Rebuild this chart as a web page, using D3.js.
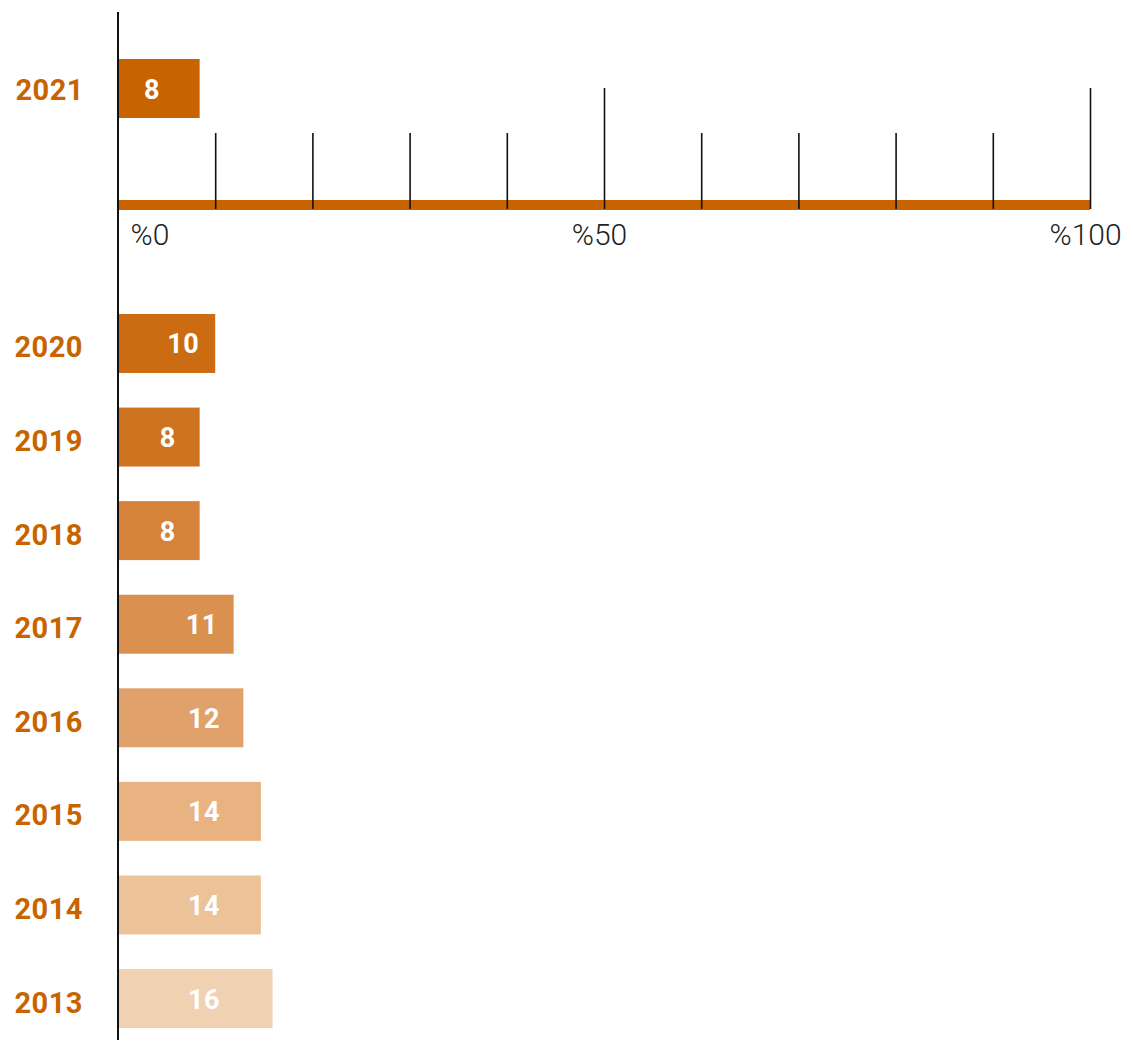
<!DOCTYPE html>
<meta charset="utf-8">
<script src="https://cdn.jsdelivr.net/npm/d3@7"></script>
<style>
  body { margin: 0; background: #fff; }
  text { font-family: Roboto, "DejaVu Sans", sans-serif; }
  .year { fill: #c86400; font-weight: 700; font-size: 29px; letter-spacing: 0.5px; }
  .val { fill: #fff; font-weight: 700; font-size: 27px; letter-spacing: 0.5px; }
  .pct text { fill: #222; font-weight: 300; font-size: 30px; }
</style>
<body>
<script>
  // top bar (current year)
  var topYear = "2021";
  var topValue = 8;
  var topLength = 8.4;

  // earlier years: printed value and drawn bar length (%)
  var years = ["2020", "2019", "2018", "2017", "2016", "2015", "2014", "2013"];
  var values = [10, 8, 8, 11, 12, 14, 14, 16];
  var lengths = [10, 8.4, 8.4, 11.9, 12.9, 14.7, 14.7, 15.9];
  var colors = ["#cc6c12", "#ce7420", "#d6823a", "#da914f", "#e0a26a", "#e8b281", "#ecc299", "#f0d1b2"];

  var majorTicks = [0, 50, 100];
  var minorTicks = [10, 20, 30, 40, 60, 70, 80, 90];
  var tickLabels = ["%0", "%50", "%100"];

  var width = 1133, height = 1041;
  var x0 = 118, x1 = 1090, axisY = 209;

  var svg = d3.select("body").append("svg")
    .attr("width", width)
    .attr("height", height);

  var x = d3.scaleLinear().domain([0, 100]).range([x0, x1]);

  var y = d3.scaleBand()
    .domain(years)
    .range([314, 1028])
    .paddingInner(0.37)
    .paddingOuter(0);

  // top bar
  var topY = 59, topH = 59;
  svg.append("rect")
    .attr("x", x(0)).attr("y", topY)
    .attr("width", x(topLength) - x(0)).attr("height", topH)
    .attr("fill", "#c86400");
  svg.append("text").attr("class", "year")
    .attr("x", 84).attr("y", topY + topH / 2 + 11)
    .attr("text-anchor", "end")
    .text(topYear);
  svg.append("text").attr("class", "val")
    .attr("x", 152).attr("y", topY + topH / 2 + 10)
    .attr("text-anchor", "middle")
    .text(topValue);

  // percent axis: orange bar with ticks above
  svg.append("rect")
    .attr("x", x(0)).attr("y", axisY - 9)
    .attr("width", x(100) - x(0)).attr("height", 10)
    .attr("fill", "#c86400");

  svg.append("g")
    .attr("transform", "translate(0," + axisY + ")")
    .call(d3.axisTop(x).tickValues(minorTicks).tickSize(76).tickFormat(""))
    .call(function (g) {
      g.select(".domain").remove();
      g.selectAll("line").attr("stroke", "#111").attr("stroke-width", 1.6);
    });

  svg.append("g")
    .attr("transform", "translate(0," + axisY + ")")
    .call(d3.axisTop(x).tickValues(majorTicks.slice(1)).tickSize(121).tickFormat(""))
    .call(function (g) {
      g.select(".domain").remove();
      g.selectAll("line").attr("stroke", "#111").attr("stroke-width", 1.6);
    });

  var lab = svg.append("g").attr("class", "pct")
    .attr("transform", "translate(0," + axisY + ")")
    .call(d3.axisBottom(x).tickValues(majorTicks).tickSize(0).tickPadding(30)
      .tickFormat(function (d, i) { return tickLabels[i]; }));
  lab.select(".domain").remove();
  lab.selectAll(".tick text")
    .attr("dy", "0.2em")
    .attr("text-anchor", function (d) { return d === 0 ? "start" : "middle"; })
    .attr("dx", function (d) { return d === 0 ? 12 : -5; });

  // lower bars
  svg.selectAll("rect.bar")
    .data(years)
    .enter().append("rect")
    .attr("class", "bar")
    .attr("x", x(0))
    .attr("y", function (d) { return y(d); })
    .attr("width", function (d, i) { return x(lengths[i]) - x(0); })
    .attr("height", y.bandwidth())
    .attr("fill", function (d, i) { return colors[i]; });

  svg.selectAll("text.yl")
    .data(years)
    .enter().append("text")
    .attr("class", "year yl")
    .attr("x", 83)
    .attr("y", function (d) { return y(d) + y.bandwidth() / 2 + 14; })
    .attr("text-anchor", "end")
    .text(function (d) { return d; });

  svg.selectAll("text.vl")
    .data(years)
    .enter().append("text")
    .attr("class", "val vl")
    .attr("x", function (d, i) { return Math.min(x(lengths[i]) - 32, 204); })
    .attr("y", function (d) { return y(d) + y.bandwidth() / 2 + 10; })
    .attr("text-anchor", "middle")
    .text(function (d, i) { return values[i]; });

  // vertical baseline
  svg.append("line")
    .attr("x1", x(0)).attr("x2", x(0))
    .attr("y1", 12).attr("y2", 1040)
    .attr("stroke", "#111").attr("stroke-width", 2);
</script>
</body>
